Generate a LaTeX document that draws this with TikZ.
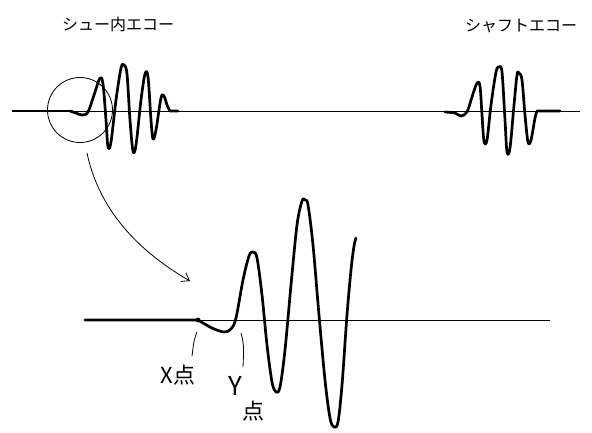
\documentclass[tikz,border=0pt]{standalone}
\usepackage{fontspec}
\newfontfamily\jpfont{Noto Sans CJK JP}
\usetikzlibrary{arrows.meta}
\tikzset{
  base/.style={line width=0.9pt},
  wave/.style={line width=2.7pt, line join=round, line cap=round},
  thin/.style={line width=0.8pt},
  lbl/.style={font=\jpfont\fontsize{16}{16}\selectfont, inner sep=0pt},
  pt/.style={font=\jpfont\fontsize{22}{22}\selectfont, inner sep=0pt}
}
\begin{document}
\begin{tikzpicture}[x=1pt,y=-1pt]
\useasboundingbox (0,0) rectangle (592,433);
% labels
\node[lbl] (l1) at (118,24) {シュー内エコー};
\node[lbl] (l2) at (521,26) {シャフトエコー};
% top baseline
\coordinate (ta) at (12,111);
\coordinate (tb) at (580,111);
\draw[base] (ta) -- (tb);
\draw[line width=1.6pt] (12,111) -- (70,111);
% echo 1
\draw[wave] (70,111)
  plot[smooth, tension=0.55] coordinates {(70,111) (76,113) (82,115) (88,112) (94,95) (100,78) (103,84) (106,120) (108,147) (111,142) (116,100) (121,68) (124,65) (127,74) (130,120) (133,151) (136,145) (141,100) (145,74) (148,77) (151,120) (153,139) (156,130) (161,98) (164,96) (167,105) (170,111)}
  -- (178,111);
% echo 2
\draw[wave] (445,112)
  plot[smooth, tension=0.55] coordinates {(445,112) (455,113) (461,116) (467,112) (472,97) (477,83) (480,86) (482,115) (484,141) (487,140) (491,105) (496,72) (499,67) (502,72) (505,120) (507,152) (510,148) (514,105) (517,75) (519,73) (522,80) (525,115) (528,142) (531,140) (535,118) (537,111)}
  -- (560,111);
% magnifier circle
\node[draw, thin, circle, minimum size=65pt, inner sep=0pt] (circ) at (80,110) {};
% arrow
\coordinate (as) at (87,153);
\coordinate (ae) at (190,281);
\draw[thin, -{Straight Barb[length=7pt,width=10pt]}] (as) .. controls (100,215) and (145,255) .. (ae);
% bottom baseline
\coordinate (ba) at (85,320);
\coordinate (bb) at (550,320);
\draw[base] (ba) -- (bb);
\draw[wave] (85,320) -- (198,320)
  plot[smooth, tension=0.55] coordinates {(198,320) (212,328) (224,332) (231,329) (236,318) (243,280) (249,256) (253,252) (257,258) (262,295) (267,345) (272,382) (276,392) (280,387) (285,350) (291,285) (297,225) (302,201) (305,200) (308,205) (313,245) (319,315) (325,380) (330,418) (334,427) (338,422) (342,385) (347,315) (351,270) (354,246) (356,238)};
% X point
\coordinate (X) at (198,320);
\fill (X) circle (2.4pt);
% leaders
\coordinate (xl1) at (197,332);
\coordinate (xl2) at (192,356);
\draw[thin] (xl1) .. controls (194,340) .. (xl2);
\coordinate (yl1) at (241,333);
\coordinate (yl2) at (243,367);
\draw[thin] (yl1) .. controls (244,345) .. (yl2);
% point labels
\node[pt] (xlab) at (178,375) {X点};
\node[pt, font=\jpfont\fontsize{26}{26}\selectfont] (ylab) at (235,386) {Y};
\node[pt] (ylab2) at (253,411) {点};
\end{tikzpicture}
\end{document}
